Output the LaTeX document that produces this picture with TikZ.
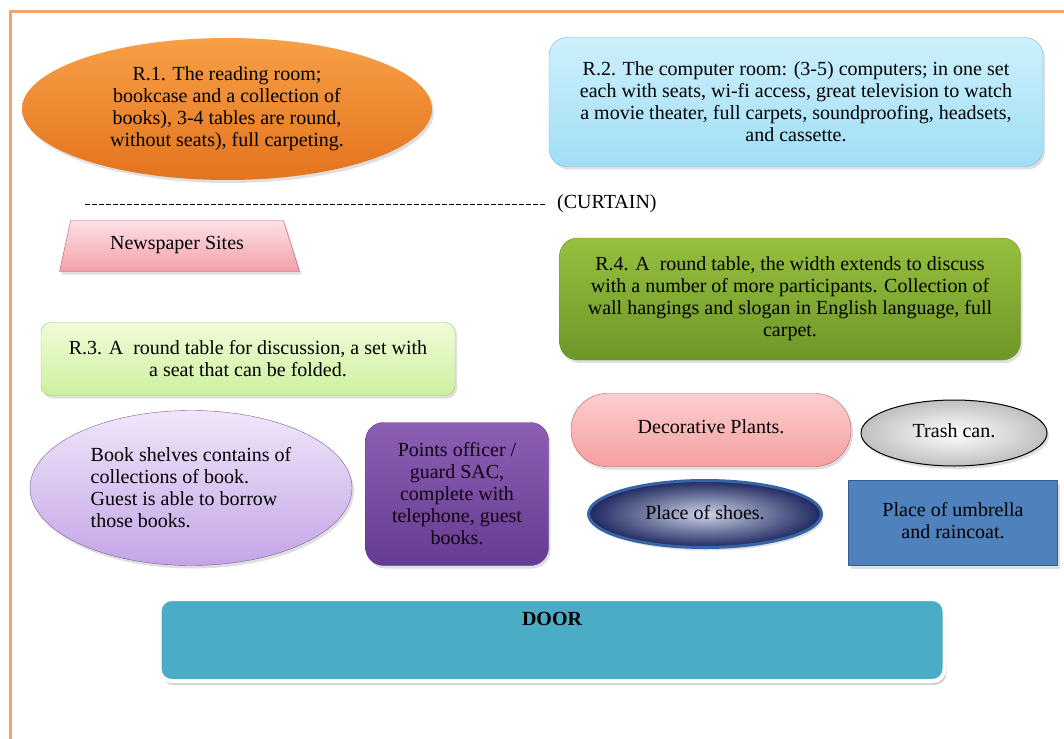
\documentclass[tikz,border=0pt]{standalone}
\usepackage{fontspec}
\setmainfont{Liberation Serif}
\usetikzlibrary{shapes,shadows}

\definecolor{frameorange}{RGB}{240,165,110}
\definecolor{readtop}{RGB}{247,160,70}
\definecolor{readbot}{RGB}{228,115,30}
\definecolor{comptop}{RGB}{205,240,252}
\definecolor{compbot}{RGB}{160,222,245}
\definecolor{compline}{RGB}{120,185,215}
\definecolor{newstop}{RGB}{252,225,230}
\definecolor{newsbot}{RGB}{245,160,170}
\definecolor{newsline}{RGB}{190,90,105}
\definecolor{wheeltop}{RGB}{240,252,215}
\definecolor{wheelbot}{RGB}{205,240,160}
\definecolor{wheelline}{RGB}{160,195,110}
\definecolor{roundtop}{RGB}{150,192,62}
\definecolor{roundbot}{RGB}{110,150,40}
\definecolor{shelftop}{RGB}{240,230,250}
\definecolor{shelfbot}{RGB}{195,165,230}
\definecolor{shelfline}{RGB}{125,95,160}
\definecolor{guardtop}{RGB}{140,95,180}
\definecolor{guardbot}{RGB}{100,60,145}
\definecolor{planttop}{RGB}{252,205,205}
\definecolor{plantbot}{RGB}{245,160,160}
\definecolor{plantline}{RGB}{190,95,95}
\definecolor{shoein}{RGB}{205,210,230}
\definecolor{shoeout}{RGB}{30,40,95}
\definecolor{shoeline}{RGB}{55,100,165}
\definecolor{umbrella}{RGB}{79,129,189}
\definecolor{umbrellaline}{RGB}{56,93,138}
\definecolor{door}{RGB}{75,172,198}

\begin{document}
\begin{tikzpicture}[x=1pt, y=-1pt, font=\fontsize{20}{22}\selectfont]

  \tikzstyle{room}=[align=center, inner sep=0,
    drop shadow={opacity=0.25, shadow xshift=2pt, shadow yshift=-3pt}]
  \tikzstyle{boxed}=[room, rectangle, rounded corners=18]

  \useasboundingbox (0,0) rectangle (1064,738);
  \fill[white] (0,0) rectangle (1064,738);
  \draw[frameorange, line width=3] (10,12) rectangle (1080,760);

  \node [room, ellipse, top color=readtop, bottom color=readbot,
    minimum width=410, minimum height=142] (reading) at (227,109)
    {R.1. The reading room;\\bookcase and a collection of\\books), 3-4 tables are round,\\without seats), full carpeting.};

  \node [boxed, top color=comptop, bottom color=compbot, draw=compline,
    minimum width=494, minimum height=129] (computer) at (796,102)
    {R.2. The computer room: (3-5) computers; in one set\\each with seats, wi-fi access, great television to watch\\a movie theater, full carpets, soundproofing, headsets,\\and cassette.};

  \coordinate (curtainstart) at (85,204);
  \node [anchor=west, inner xsep=12, inner ysep=2] (curtain) at (545,204) {(CURTAIN)};
  \draw [dash pattern=on 5pt off 2pt, line width=0.8] (curtainstart) -- (curtain.west);

  \node [room, trapezium, trapezium left angle=60, trapezium right angle=50,
    trapezium stretches body,
    top color=newstop, bottom color=newsbot, draw=newsline,
    minimum width=240, minimum height=51] (newspaper) at (177,246)
    {\raisebox{6pt}{Newspaper Sites}};

  \node [room, rectangle, rounded corners=10, top color=wheeltop, bottom color=wheelbot,
    draw=wheelline, minimum width=414, minimum height=73] (roundtable) at (248,359)
    {R.3. A\enspace round table for discussion, a set with\\a seat that can be folded.};

  \node [boxed, top color=roundtop, bottom color=roundbot, draw=roundbot,
    minimum width=461, minimum height=122] (bigtable) at (790,299)
    {R.4. A\enspace round table, the width extends to discuss\\with a number of more participants. Collection of\\wall hangings and slogan in English language, full\\carpet.};

  \node [room, ellipse, align=left, top color=shelftop, bottom color=shelfbot,
    draw=shelfline, minimum width=322, minimum height=155] (shelves) at (191,488)
    {Book shelves contains of\\collections of book.\\Guest is able to borrow\\those books.};

  \node [boxed, top color=guardtop, bottom color=guardbot, draw=guardbot,
    text=black!85!violet, minimum width=183, minimum height=143] (guard) at (457,494)
    {Points officer /\\guard SAC,\\complete with\\telephone, guest\\books.};

  \node [room, rectangle, rounded corners=36, top color=planttop, bottom color=plantbot,
    draw=plantline, minimum width=280, minimum height=73] (plants) at (711,430)
    {\raisebox{6pt}{Decorative Plants.}};

  \node [room, ellipse, inner color=white, outer color=black!25, draw=black,
    line width=1, minimum width=186, minimum height=66] (trash) at (954,433)
    {\raisebox{4pt}{Trash can.}};

  \node [room, ellipse, inner color=shoein, outer color=shoeout, draw=shoeline,
    line width=3, minimum width=233, minimum height=67] (shoes) at (705,514)
    {\raisebox{3pt}{Place of shoes.}};

  \node [room, rectangle, fill=umbrella, draw=umbrellaline, line width=1.5,
    minimum width=209, minimum height=85] (umbrella) at (953,523)
    {\raisebox{8pt}{\begin{tabular}{@{}c@{}}Place of umbrella\\and raincoat.\end{tabular}}};

  \node [rectangle, rounded corners=12, fill=door, draw=white, line width=4,
    drop shadow={opacity=0.35, shadow xshift=2pt, shadow yshift=-4pt},
    minimum width=785, minimum height=82,
    label={[anchor=north, yshift=-12pt, font=\fontsize{20}{22}\selectfont\bfseries]north:DOOR}]
    (entrance) at (552,640) {};

\end{tikzpicture}
\end{document}
